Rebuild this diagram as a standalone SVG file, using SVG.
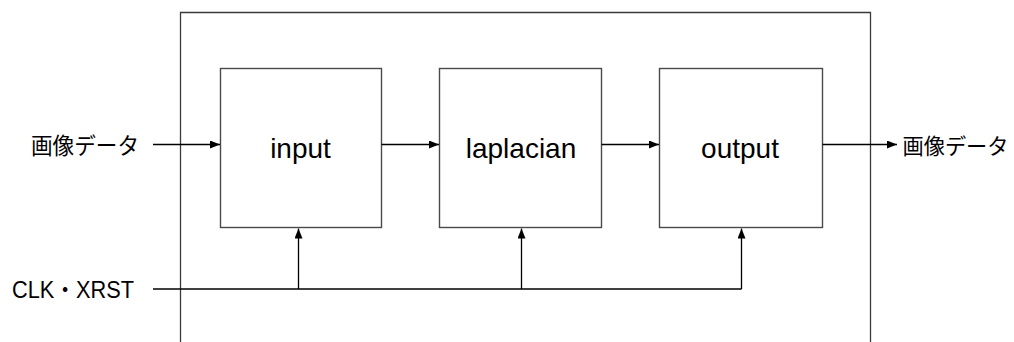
<svg xmlns="http://www.w3.org/2000/svg" width="1014" height="342" viewBox="0 0 1014 342">
  <style>
    .frame { fill: none; stroke: #3a3a3a; stroke-width: 1.3; }
    .block { fill: #ffffff; stroke: #4a4a4a; stroke-width: 1.4; }
    .wire { fill: none; stroke: #000000; stroke-width: 1.3; }
    .lbl { font-family: "Liberation Sans", Arial, "Noto Sans CJK JP", sans-serif; fill: #000000; }
    .jp { font-family: "Noto Sans CJK JP", "Liberation Sans", sans-serif; fill: #000000; }
  </style>
  <defs>
    <marker id="arrow" viewBox="0 0 10 8" refX="10" refY="4" markerWidth="10" markerHeight="8" markerUnits="userSpaceOnUse" orient="auto">
      <path d="M0,0 L10,4 L0,8 Z" fill="#000000"/>
    </marker>
  </defs>
  <rect width="1014" height="342" fill="#ffffff"/>

  <!-- enclosing module, open at the bottom edge -->
  <path class="frame" d="M180.5,342 V12.5 H870.5 V342"/>

  <g id="input">
    <rect class="block" x="220.5" y="68.5" width="161" height="159"/>
    <text class="lbl" x="300.5" y="158" font-size="28" text-anchor="middle">input</text>
  </g>
  <g id="laplacian">
    <rect class="block" x="439.5" y="68.5" width="162" height="159"/>
    <text class="lbl" x="521" y="158" font-size="28" text-anchor="middle">laplacian</text>
  </g>
  <g id="output">
    <rect class="block" x="659.5" y="68.5" width="163" height="159"/>
    <text class="lbl" x="740" y="158" font-size="28" text-anchor="middle">output</text>
  </g>

  <g id="labels">
    <text class="jp" x="31" y="154" font-size="22.5" textLength="108" lengthAdjust="spacingAndGlyphs">画像データ</text>
    <text class="jp" x="902.5" y="154" font-size="21.5" textLength="106" lengthAdjust="spacingAndGlyphs">画像データ</text>
    <text class="lbl" x="12" y="297.5" font-size="23.5" textLength="122" lengthAdjust="spacingAndGlyphs">CLK・XRST</text>
  </g>

  <g id="connectors">
    <line class="wire" x1="153" y1="144.5" x2="220" y2="144.5" marker-end="url(#arrow)"/>
    <line class="wire" x1="381.5" y1="144.5" x2="439" y2="144.5" marker-end="url(#arrow)"/>
    <line class="wire" x1="601.5" y1="144.5" x2="659" y2="144.5" marker-end="url(#arrow)"/>
    <line class="wire" x1="822.5" y1="144.5" x2="897" y2="144.5" marker-end="url(#arrow)"/>
    <!-- clock / reset distribution -->
    <path class="wire" d="M153,289 H741.5"/>
    <line class="wire" x1="298.5" y1="289" x2="298.5" y2="228.5" marker-end="url(#arrow)"/>
    <line class="wire" x1="521.5" y1="289" x2="521.5" y2="228.5" marker-end="url(#arrow)"/>
    <line class="wire" x1="741.5" y1="289" x2="741.5" y2="228.5" marker-end="url(#arrow)"/>
  </g>
</svg>
